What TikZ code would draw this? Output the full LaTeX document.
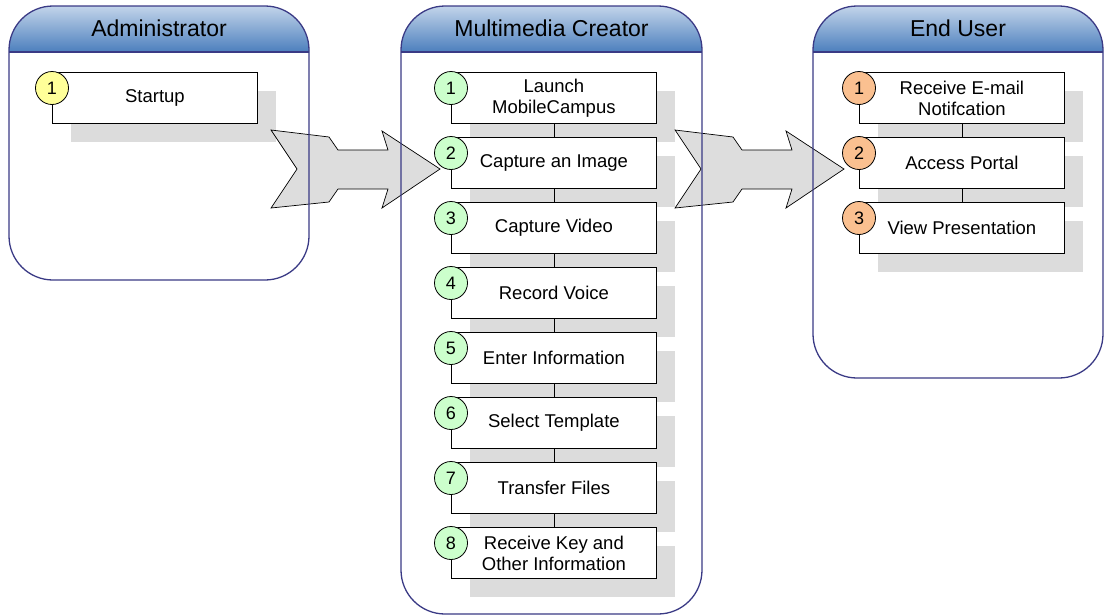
\documentclass[tikz,border=0pt]{standalone}
\usepackage{fontspec}
\setmainfont{Liberation Sans}
\usetikzlibrary{shadows}

\definecolor{lanebd}{HTML}{3A3A85}
\definecolor{hdtop}{HTML}{C2D4EA}
\definecolor{hdbot}{HTML}{4C7FBD}
\definecolor{shadowgray}{HTML}{DCDCDC}
\definecolor{arrowgray}{HTML}{DDDDDD}
\definecolor{numyellow}{HTML}{FFFF99}
\definecolor{numgreen}{HTML}{CCFFCC}
\definecolor{numorange}{HTML}{FAC090}

\tikzset{
  lanebox/.style={draw=lanebd, line width=1.3pt, rounded corners=44pt},
  lanehead/.style={top color=hdtop, bottom color=hdbot},
  lanetitle/.style={font=\fontsize{23}{25}\selectfont, text=black},
  task/.style={draw=black, fill=white, line width=0.8pt,
    minimum width=205pt, minimum height=51pt, anchor=north west,
    align=center, inner sep=0pt, font=\fontsize{18.5}{21}\selectfont,
    drop shadow={shadow xshift=19pt, shadow yshift=-19pt,
      fill=shadowgray, opacity=1}},
  num/.style={circle, draw=black, line width=0.8pt, minimum size=33pt,
    inner sep=0pt, font=\fontsize{18}{18}\selectfont},
  link/.style={draw=black, line width=0.8pt},
  bigarrow/.pic={
    \draw[fill=arrowgray, draw=black, line width=0.7pt, line join=miter]
      (0,0) -- (58,7) -- (67,20) -- (117,20) -- (111,1) -- (169,39)
      -- (111,78) -- (117,59) -- (67,59) -- (58,72) -- (0,78) -- (26,39)
      -- cycle;
  }
}

\begin{document}
\begin{tikzpicture}[x=1pt,y=-1pt]
\useasboundingbox (0,0) rectangle (1104,616);

% swimlane backgrounds with shaded headers
\foreach \xa/\xb/\yb in {9/309/280, 401/702/614, 813/1103/378}{
  \fill[white, rounded corners=44pt] (\xa,6) rectangle (\xb,\yb);
  \begin{scope}
    \clip[rounded corners=44pt] (\xa,6) rectangle (\xb,\yb);
    \shade[lanehead] (\xa,6) rectangle (\xb,52);
  \end{scope}
}

% lane titles
\node[lanetitle] (adminT) at (159,28) {Administrator};
\node[lanetitle] (mcT) at (551.5,28) {Multimedia Creator};
\node[lanetitle] (euT) at (958,28) {End User};

% Administrator tasks
\node[task] (a1) at (52,72) {Startup};

% Multimedia Creator tasks
\node[task] (m1) at (451,72)  {Launch\\MobileCampus};
\node[task] (m2) at (451,137) {Capture an Image};
\node[task] (m3) at (451,202) {Capture Video};
\node[task] (m4) at (451,267) {Record Voice};
\node[task] (m5) at (451,332) {Enter Information};
\node[task] (m6) at (451,397) {Select Template};
\node[task] (m7) at (451,462) {Transfer Files};
\node[task] (m8) at (451,527) {Receive Key and\\Other Information};

% End User tasks
\node[task] (e1) at (859,72)  {Receive E-mail\\Notifcation};
\node[task] (e2) at (859,137) {Access Portal};
\node[task] (e3) at (859,202) {View Presentation};

% sequence links
\foreach \i/\j in {1/2,2/3,3/4,4/5,5/6,6/7,7/8}
  \draw[link] (m\i.south) -- (m\j.north);
\foreach \i/\j in {1/2,2/3}
  \draw[link] (e\i.south) -- (e\j.north);

% hand-over arrows between lanes
\pic at (271,130) {bigarrow};
\pic at (675,130) {bigarrow};

% lane outlines
\foreach \xa/\xb/\yb in {9/309/280, 401/702/614, 813/1103/378}{
  \draw[lanebox] (\xa,6) rectangle (\xb,\yb);
  \draw[draw=lanebd, line width=1.1pt] (\xa,52) -- (\xb,52);
}

% step numbers
\node[num, fill=numyellow] (a1n) at ([yshift=-16pt]a1.north west) {1};
\foreach \i in {1,...,8}
  \node[num, fill=numgreen] (m\i n) at ([yshift=-16pt]m\i.north west) {\i};
\foreach \i in {1,2,3}
  \node[num, fill=numorange] (e\i n) at ([yshift=-16pt]e\i.north west) {\i};
\end{tikzpicture}
\end{document}
